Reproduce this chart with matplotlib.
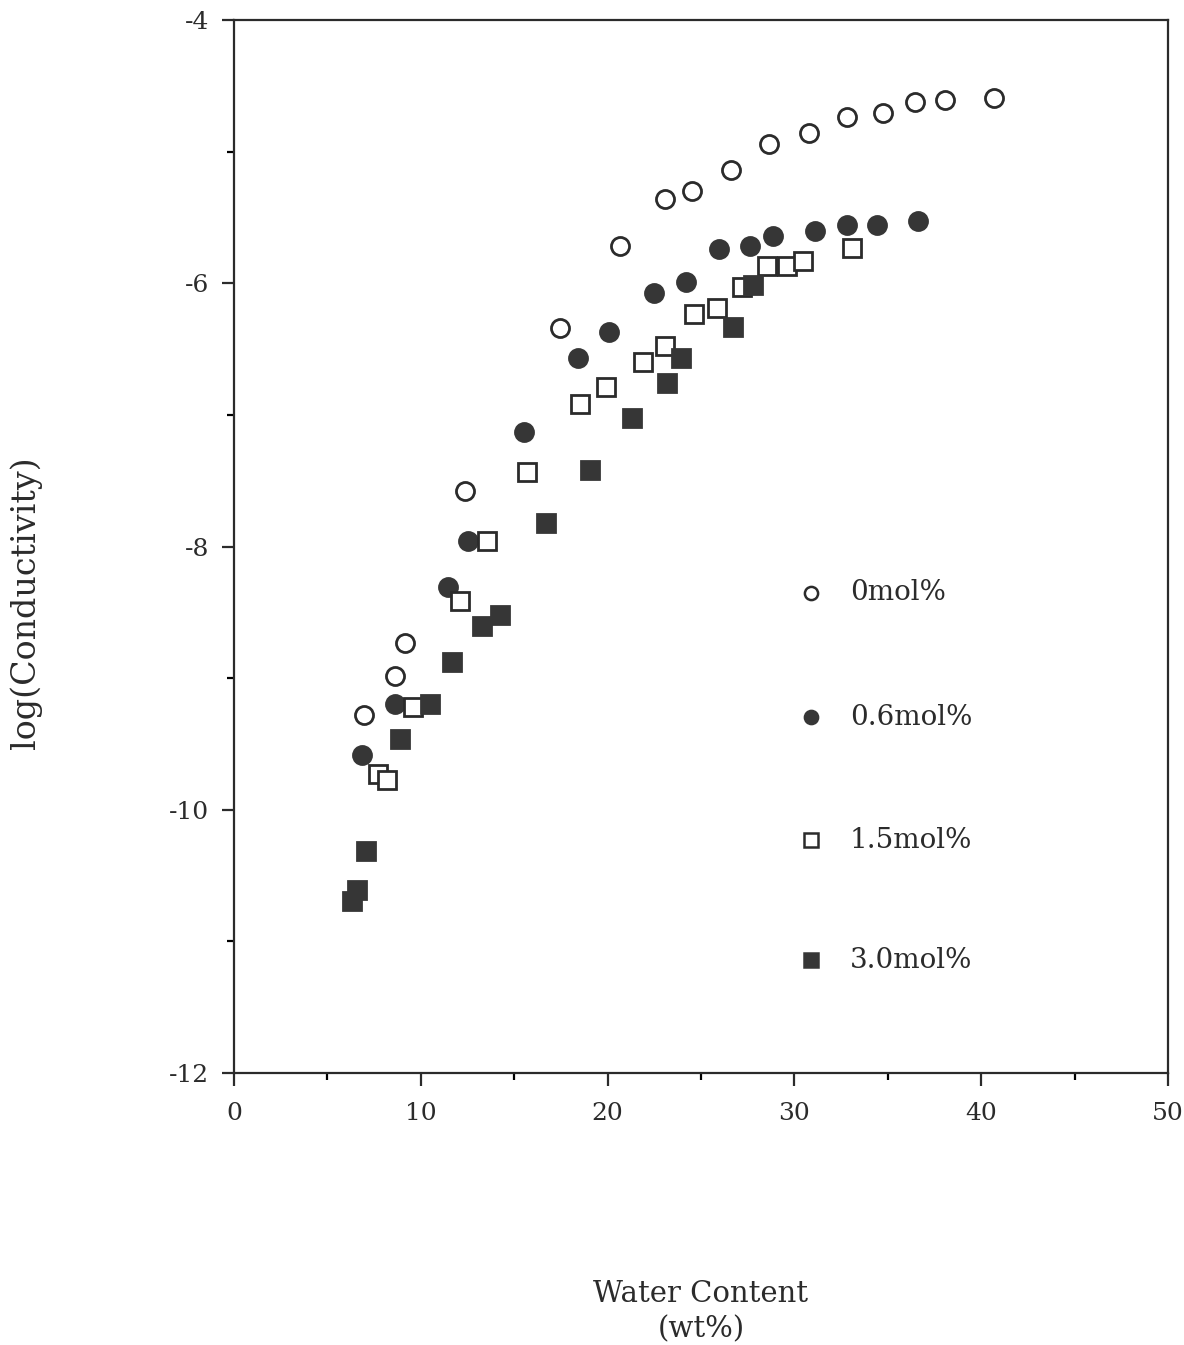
#!/usr/bin/env python3
"""
log(Conductivity) vs water content for four dopant levels
"""

import matplotlib
matplotlib.use('Agg')  # Use non-interactive backend
import matplotlib.pyplot as plt
from matplotlib.ticker import MultipleLocator

# Data
x_0 = [6.98, 8.63, 9.16, 12.38, 17.47, 20.69, 23.10, 24.54, 26.58, 28.62,
       30.76, 32.80, 34.73, 36.44, 38.05, 40.68]
y_0 = [-9.28, -8.98, -8.73, -7.58, -6.34, -5.72, -5.36, -5.30, -5.14, -4.94,
       -4.86, -4.74, -4.71, -4.62, -4.61, -4.59]

x_06 = [6.86, 8.63, 11.47, 12.54, 15.54, 18.44, 20.10, 22.51, 24.22, 25.94,
        27.65, 28.83, 31.08, 32.80, 34.41, 36.60]
y_06 = [-9.58, -9.20, -8.31, -7.96, -7.13, -6.57, -6.37, -6.07, -5.99, -5.74,
        -5.72, -5.64, -5.60, -5.56, -5.56, -5.53]

x_15 = [7.72, 8.20, 9.59, 12.11, 13.56, 15.70, 18.54, 19.94, 21.92, 23.10,
        24.60, 25.88, 27.22, 28.56, 29.58, 30.44, 33.07]
y_15 = [-9.73, -9.77, -9.22, -8.41, -7.96, -7.43, -6.92, -6.79, -6.60, -6.48,
        -6.23, -6.19, -6.03, -5.87, -5.87, -5.83, -5.73]

x_30 = [6.33, 6.60, 7.07, 8.90, 10.50, 11.68, 13.29, 14.26, 16.72, 19.08,
        21.33, 23.20, 23.95, 26.69, 27.81]
y_30 = [-10.69, -10.61, -10.31, -9.46, -9.20, -8.88, -8.60, -8.52, -7.82, -7.42,
        -7.02, -6.76, -6.57, -6.33, -6.01]

labels = ['0mol%', '0.6mol%', '1.5mol%', '3.0mol%']

plt.rcParams['font.family'] = ['DejaVu Serif']
plt.rcParams['axes.unicode_minus'] = False

DARK = '#2b2b2b'
FILL = '#363636'

fig = plt.figure(figsize=(11.84, 13.45), dpi=100)
ax = fig.add_axes([0.1976, 0.2022, 0.7889, 0.7829])

styles = [
    dict(marker='o', facecolor='white', edgecolor=DARK),
    dict(marker='o', facecolor=FILL, edgecolor=FILL),
    dict(marker='s', facecolor='white', edgecolor=DARK),
    dict(marker='s', facecolor=FILL, edgecolor=FILL),
]
series = [(x_0, y_0), (x_06, y_06), (x_15, y_15), (x_30, y_30)]

for (xs, ys), st in zip(series, styles):
    ax.plot(xs, ys, linestyle='none', marker=st['marker'], markersize=13,
            markerfacecolor=st['facecolor'], markeredgecolor=st['edgecolor'],
            markeredgewidth=2.0)

# Hand-placed legend inside the axes
leg_y = [0.456, 0.338, 0.221, 0.107]
for lab, yy, st in zip(labels, leg_y, styles):
    ax.plot([0.618], [yy], transform=ax.transAxes, linestyle='none',
            marker=st['marker'], markersize=9.5,
            markerfacecolor=st['facecolor'], markeredgecolor=st['edgecolor'],
            markeredgewidth=1.8, clip_on=False)
    ax.text(0.6595, yy, lab, transform=ax.transAxes, fontsize=20,
            va='center', ha='left', color=DARK)

ax.set_xlim(0, 50)
ax.set_ylim(-12, -4)
ax.xaxis.set_major_locator(MultipleLocator(10))
ax.xaxis.set_minor_locator(MultipleLocator(5))
ax.yaxis.set_major_locator(MultipleLocator(2))
ax.yaxis.set_minor_locator(MultipleLocator(1))

ax.tick_params(axis='both', which='major', direction='out', length=9,
               width=1.6, labelsize=18, colors=DARK)
ax.tick_params(axis='both', which='minor', direction='out', length=5,
               width=1.6)
ax.tick_params(axis='x', which='major', pad=12)
ax.tick_params(axis='y', which='major', pad=9)

for sp in ax.spines.values():
    sp.set_linewidth(1.6)
    sp.set_color(DARK)

ax.set_xlabel('Water Content\n(wt%)', fontsize=21, color=DARK,
              linespacing=1.3)
ax.xaxis.set_label_coords(0.5, -0.197)
ax.set_ylabel('log(Conductivity)', fontsize=24, color=DARK)
ax.yaxis.set_label_coords(-0.205, 0.447)

fig.savefig('out.png', dpi=100)
plt.close(fig)
